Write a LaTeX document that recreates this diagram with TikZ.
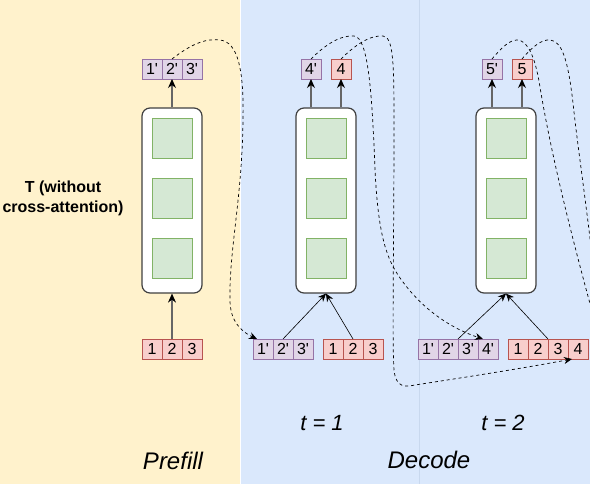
\documentclass[tikz,border=0pt]{standalone}
\usepackage{fontspec}
\setmainfont{Liberation Sans}
\usetikzlibrary{positioning,arrows.meta}
\definecolor{prefillbg}{HTML}{FFF2CC}
\definecolor{decodebg}{HTML}{DAE8FC}
\definecolor{sepline}{HTML}{C8D8EE}
\definecolor{purplefill}{HTML}{E1D5E7}
\definecolor{purpleline}{HTML}{9673A6}
\definecolor{redfill}{HTML}{F8CECC}
\definecolor{redline}{HTML}{B85450}
\definecolor{greenfill}{HTML}{D5E8D4}
\definecolor{greenline}{HTML}{82B366}
\newcommand{\prm}{\textquotesingle}

\begin{document}
\begin{tikzpicture}[x=1pt, y=-1pt, node distance=0pt,
  tok/.style={minimum size=20pt, inner sep=0pt, outer sep=0pt, draw, font=\fontsize{16}{16}\selectfont},
  ptok/.style={tok, fill=purplefill, draw=purpleline},
  rtok/.style={tok, fill=redfill, draw=redline},
  model/.style={draw=black!75, line width=1.2pt, fill=white, rounded corners=8pt, minimum width=60pt, minimum height=185pt},
  block/.style={draw=greenline, fill=greenfill, minimum size=40pt, inner sep=0pt},
  flow/.style={-{Stealth[length=9pt,width=8pt,black]}, black!60, line width=1.2pt},
  feed/.style={-{Stealth[length=8pt,width=7pt]}, line width=0.6pt},
  carry/.style={-{Stealth[length=8pt,width=7pt]}, dash pattern=on 3pt off 3pt, line width=0.7pt},
  phase/.style={font=\itshape\fontsize{24}{24}\selectfont},
  step label/.style={font=\itshape\fontsize{22}{22}\selectfont}]
\useasboundingbox (0,0) rectangle (590,484);
\clip (0,0) rectangle (590,484);
\fill[prefillbg] (0,0) rectangle (240,484);
\fill[decodebg] (241,0) rectangle (590,484);
\draw[sepline] (419,0) -- (419,484);

\node[model] (M0) at (172,200.5) {};
\node[block] (M0a) at (172,138) {};
\node[block] (M0b) at (172,198) {};
\node[block] (M0c) at (172,258) {};
\node[rtok] (X1) at (152,349) {1};
\node[rtok, right=of X1] (X2) {2};
\node[rtok, right=of X2] (X3) {3};
\node[ptok] (Y1) at (152,69) {1\prm};
\node[ptok, right=of Y1] (Y2) {2\prm};
\node[ptok, right=of Y2] (Y3) {3\prm};

\node[model] (M1) at (326,200.5) {};
\node[block] (M1a) at (326,138) {};
\node[block] (M1b) at (326,198) {};
\node[block] (M1c) at (326,258) {};
\node[ptok] (A1) at (263,349) {1\prm};
\node[ptok, right=of A1] (A2) {2\prm};
\node[ptok, right=of A2] (A3) {3\prm};
\node[rtok] (B1) at (333,349) {1};
\node[rtok, right=of B1] (B2) {2};
\node[rtok, right=of B2] (B3) {3};
\node[ptok] (Z1p) at (311,69) {4\prm};
\node[rtok] (Z1) at (341,69) {4};

\node[model] (M2) at (506,200.5) {};
\node[block] (M2a) at (506,138) {};
\node[block] (M2b) at (506,198) {};
\node[block] (M2c) at (506,258) {};
\node[ptok] (C1) at (428,349) {1\prm};
\node[ptok, right=of C1] (C2) {2\prm};
\node[ptok, right=of C2] (C3) {3\prm};
\node[ptok, right=of C3] (C4) {4\prm};
\node[rtok] (D1) at (518,349) {1};
\node[rtok, right=of D1] (D2) {2};
\node[rtok, right=of D2] (D3) {3};
\node[rtok, right=of D3] (D4) {4};
\node[ptok] (Z2p) at (492,69) {5\prm};
\node[rtok] (Z2) at (522,69) {5};

\coordinate (out1) at (600,340);
\coordinate (out2) at (596,290);

\node[font=\bfseries\fontsize{16}{20}\selectfont, align=center] (T) at (63,198) {T (without\\cross-attention)};
\node[phase] (pre) at (173,461) {Prefill};
\node[phase] (dec) at (429,460) {Decode};
\node[step label] (s1) at (322,423) {t = 1};
\node[step label] (s2) at (503,423) {t = 2};

\draw[flow] (X2) -- (M0);
\draw[flow] (M0) -- (Y2);
\draw[flow] (Z1p |- M1.north) -- (Z1p);
\draw[flow] (Z1 |- M1.north) -- (Z1);
\draw[feed] (A2.north) -- (M1.south);
\draw[feed] (B2.north) -- (M1.south);
\draw[flow] (Z2p |- M2.north) -- (Z2p);
\draw[flow] (Z2 |- M2.north) -- (Z2);
\draw[feed] (C3.north west) -- (M2.south);
\draw[feed] (D3.north west) -- (M2.south);

\draw[carry] (Y2.north) .. controls (190,45) and (205,38) .. (220,40)
  .. controls (238,42) and (244,70) .. (243,120)
  .. controls (242,200) and (229,250) .. (230,300)
  .. controls (230,320) and (240,331) .. ([xshift=4pt]A1.north west);
\draw[carry] (Z1p.north) .. controls (325,45) and (340,35) .. (354,36)
  .. controls (368,37) and (372,90) .. (375,170)
  .. controls (378,230) and (385,255) .. (398,275)
  .. controls (420,308) and (450,328) .. ([xshift=5pt]C4.north west);
\draw[carry] (Z1.north) .. controls (355,45) and (370,35) .. (383,36)
  .. controls (393,37) and (394,60) .. (394,120)
  .. controls (394,250) and (392,340) .. (394,370)
  .. controls (396,388) and (405,387) .. (415,385)
  .. controls (480,375) and (530,367) .. ([xshift=4pt]D4.south west);
\draw[carry] (Z2p.north) .. controls (502,47) and (510,40) .. (517,40)
  .. controls (527,40) and (535,55) .. (540,87)
  .. controls (552,160) and (575,250) .. (out1);
\draw[carry] (Z2.north) .. controls (532,47) and (542,39) .. (550,40)
  .. controls (562,41) and (568,60) .. (573,103)
  .. controls (578,150) and (586,200) .. (out2);
\end{tikzpicture}
\end{document}
